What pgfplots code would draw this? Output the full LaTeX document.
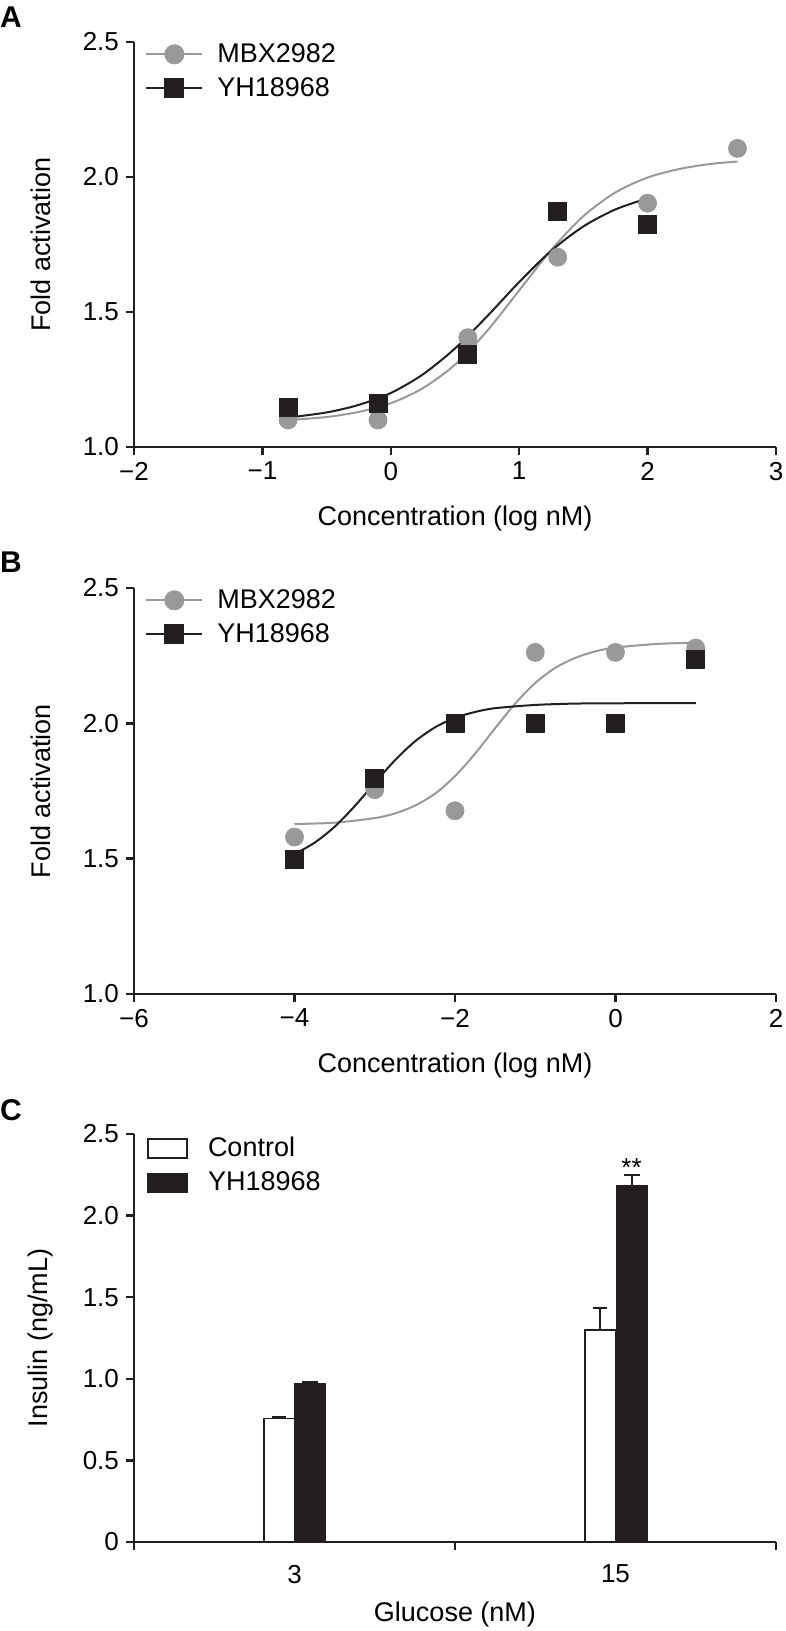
\documentclass[border=0pt]{standalone}
\usepackage{fontspec}
\setmainfont{Liberation Sans}
\usepackage{pgfplots}
\pgfplotsset{compat=1.18}

\definecolor{mgray}{RGB}{153,153,153}
\definecolor{nblack}{RGB}{35,31,32}

\pgfplotsset{
  panel/.style={
    width=321pt, scale only axis, clip=false,
    axis x line*=bottom, axis y line*=left,
    axis line style={-, line width=1.2pt, nblack},
    tick align=outside, major tick length=4pt,
    tick style={line width=1.2pt, nblack},
    minor tick num=0,
    /pgf/number format/assume math mode=true,
    tick label style={font=\fontsize{13}{15}\selectfont},
    label style={font=\fontsize{13.5}{16}\selectfont},
    xlabel style={at={(axis description cs:0.5,0)}, anchor=center, yshift=-36pt},
    ylabel style={at={(axis description cs:-0.145,0.5)}, anchor=center},
    legend style={draw=none, fill=none, at={(axis description cs:0,1)},
      anchor=north west, xshift=5.5pt, yshift=1.5pt,
      font=\fontsize{13.5}{15.5}\selectfont, inner sep=0pt, row sep=2pt},
    legend cell align=left,
    legend image code/.code={%
      \draw[mark repeat=2,mark phase=2,#1]
        plot coordinates {(0pt,0pt) (14pt,0pt) (28pt,0pt)};},
  },
  grayfit/.style={mgray, line width=1pt, no markers, smooth, forget plot},
  blackfit/.style={nblack, line width=1pt, no markers, smooth, forget plot},
  mbx/.style={only marks, mark=*, mark size=4.5pt, mgray, fill=mgray, forget plot},
  yh/.style={only marks, mark=square*, mark size=4.5pt, nblack, fill=nblack, forget plot},
}

\begin{document}
\begin{tikzpicture}
\useasboundingbox (0,0) rectangle (393pt,-815.5pt);

% ---------------- A ----------------
\begin{axis}[panel, at={(67pt,-223.5pt)}, anchor=south west, height=202.5pt,
  xmin=-2, xmax=3, ymin=1, ymax=2.5,
  xtick={-2,-1,0,1,2,3}, xticklabels={−2,−1,0,1,2,3},
  ytick={1,1.5,2,2.5}, yticklabels={1.0,1.5,2.0,2.5},
  xlabel={Concentration (log nM)}, ylabel={Fold activation}]
\addlegendimage{mgray, line width=1pt, mark=*, mark size=4.5pt, mark options={fill=mgray}}
\addlegendentry{\hspace{5pt}MBX2982}
\addlegendimage{nblack, line width=1pt, mark=square*, mark size=4.5pt, mark options={fill=nblack}}
\addlegendentry{\hspace{5pt}YH18968}
\addplot[grayfit] coordinates {
  (-0.8,1.100) (-0.5,1.111) (-0.25,1.130) (0,1.162) (0.25,1.218) (0.5,1.305)
  (0.75,1.430) (1.0,1.580) (1.25,1.730) (1.5,1.855) (1.75,1.943) (2.0,1.998)
  (2.25,2.030) (2.5,2.049) (2.7,2.057)};
\addplot[blackfit] coordinates {
  (-0.8,1.109) (-0.5,1.128) (-0.25,1.156) (0,1.200) (0.25,1.269) (0.5,1.365)
  (0.75,1.484) (1.0,1.611) (1.25,1.727) (1.5,1.817) (1.75,1.880) (2.0,1.921)};
\addplot[mbx] coordinates {
  (-0.8,1.10) (-0.1,1.10) (0.6,1.405) (1.3,1.703) (2.0,1.903) (2.7,2.106)};
\addplot[yh] coordinates {
  (-0.8,1.145) (-0.1,1.16) (0.6,1.343) (1.3,1.872) (2.0,1.823)};
\end{axis}

% ---------------- B ----------------
\begin{axis}[panel, at={(67pt,-497pt)}, anchor=south west, height=203pt,
  xmin=-6, xmax=2, ymin=1, ymax=2.5,
  xtick={-6,-4,-2,0,2}, xticklabels={−6,−4,−2,0,2},
  ytick={1,1.5,2,2.5}, yticklabels={1.0,1.5,2.0,2.5},
  xlabel={Concentration (log nM)}, ylabel={Fold activation}]
\addlegendimage{mgray, line width=1pt, mark=*, mark size=4.5pt, mark options={fill=mgray}}
\addlegendentry{\hspace{5pt}MBX2982}
\addlegendimage{nblack, line width=1pt, mark=square*, mark size=4.5pt, mark options={fill=nblack}}
\addlegendentry{\hspace{5pt}YH18968}
\addplot[grayfit] coordinates {
  (-4,1.628) (-3.5,1.633) (-3,1.650) (-2.75,1.667) (-2.5,1.696) (-2.25,1.740)
  (-2,1.805) (-1.75,1.888) (-1.5,1.982) (-1.25,2.073) (-1,2.149) (-0.75,2.205)
  (-0.5,2.242) (-0.25,2.266) (0,2.280) (0.5,2.293) (1,2.298)};
\addplot[blackfit] coordinates {
  (-4,1.517) (-3.75,1.559) (-3.5,1.618) (-3.25,1.694) (-3,1.780) (-2.75,1.863)
  (-2.5,1.933) (-2.25,1.985) (-2,2.020) (-1.75,2.042) (-1.5,2.056) (-1,2.068)
  (-0.5,2.073) (0,2.074) (0.5,2.075) (1,2.075)};
\addplot[mbx] coordinates {
  (-4,1.580) (-3,1.755) (-2,1.677) (-1,2.262) (0,2.262) (1,2.278)};
\addplot[yh] coordinates {
  (-4,1.497) (-3,1.797) (-2,2.0) (-1,2.0) (0,2.0) (1,2.238)};
\end{axis}

% ---------------- C ----------------
\begin{axis}[panel, at={(67pt,-771pt)}, anchor=south west, height=204pt,
  xmin=0, xmax=4, ymin=0, ymax=2.5,
  xtick={0,2,4}, xticklabels={},
  extra x ticks={1,3}, extra x tick labels={3,15},
  extra x tick style={major tick length=0pt, tick label style={yshift=-8pt}},
  ytick={0,0.5,1,1.5,2,2.5}, yticklabels={0,0.5,1.0,1.5,2.0,2.5},
  xlabel={Glucose (nM)}, ylabel={Insulin (ng/mL)},
  legend style={xshift=1pt, yshift=-1pt, row sep=2pt}]
\addlegendimage{legend image code/.code={\draw[fill=white, draw=nblack, line width=0.8pt] (0pt,-4.75pt) rectangle (19.5pt,4.75pt);}}
\addlegendentry{\hspace{8pt}Control}
\addlegendimage{legend image code/.code={\draw[fill=nblack, draw=nblack, line width=0.8pt] (0pt,-4.75pt) rectangle (19.5pt,4.75pt);}}
\addlegendentry{\hspace{8pt}YH18968}
\addplot[ybar, bar width=0.19, bar shift=0pt, fill=white, draw=nblack,
  line width=0.8pt, forget plot,
  error bars/.cd, y dir=plus, y explicit,
  error bar style={line width=1pt, nblack},
  error mark options={rotate=90, mark size=3.5pt, line width=1pt, nblack}]
  coordinates {(0.905,0.757) +- (0,0.012) (2.905,1.300) +- (0,0.131)};
\addplot[ybar, bar width=0.19, bar shift=0pt, fill=nblack, draw=nblack,
  line width=0.8pt, forget plot,
  error bars/.cd, y dir=plus, y explicit,
  error bar style={line width=1pt, nblack},
  error mark options={rotate=90, mark size=4pt, line width=1pt, nblack}]
  coordinates {(1.097,0.970) +- (0,0.008) (3.1,2.184) +- (0,0.067)};
\node[font=\fontsize{13}{15}\selectfont, anchor=base] at (axis cs:3.1,2.24) {**};
\end{axis}

\node[font=\fontsize{15}{18}\selectfont\bfseries] at (5.5pt,-8.5pt) {A};
\node[font=\fontsize{15}{18}\selectfont\bfseries] at (5.5pt,-281pt) {B};
\node[font=\fontsize{15}{18}\selectfont\bfseries] at (5.5pt,-555pt) {C};
\end{tikzpicture}
\end{document}
